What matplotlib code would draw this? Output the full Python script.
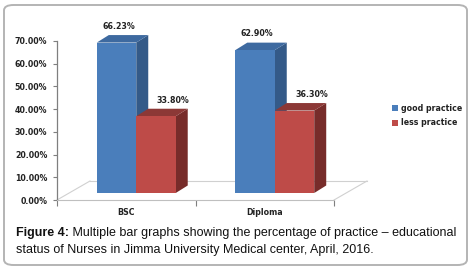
import matplotlib
matplotlib.use('Agg')
import matplotlib.pyplot as plt
from matplotlib.patches import Polygon, Patch, FancyBboxPatch

categories = ['BSC', 'Diploma']
good_practice = [66.23, 62.90]
less_practice = [33.80, 36.30]
yticks = [0, 10, 20, 30, 40, 50, 60, 70]
caption_bold = 'Figure 4:'
caption_1 = ' Multiple bar graphs showing the percentage of practice \u2013 educational'
caption_2 = 'status of Nurses in Jimma University Medical center, April, 2016.'

W, H = 476, 270
fig = plt.figure(figsize=(W / 100, H / 100), dpi=100)

# outer rounded frame
fig.patches.append(FancyBboxPatch((4 / W, 5 / H), 463 / W, 260 / H,
                                  boxstyle='round,pad=0,rounding_size=0.02',
                                  transform=fig.transFigure, fill=False,
                                  edgecolor='#b4b4b4', linewidth=1.4))

# plot frame in pixels: x 57..334, y 41..200
ax = fig.add_axes([57 / W, (H - 200) / H, 277 / W, 159 / H])
ax.set_xlim(-0.5, 1.5)
ax.set_ylim(0, 70)
ux = 2 / 277      # data per pixel, x
uy = 70 / 159     # data per pixel, y

for s in ['top', 'right']:
    ax.spines[s].set_visible(False)
ax.spines['left'].set_color('#7f7f7f')
ax.spines['bottom'].set_color('#bfbfbf')
ax.spines['left'].set_linewidth(0.9)
ax.spines['bottom'].set_linewidth(0.8)

font = dict(family='DejaVu Sans', weight='bold', size=5.7, color='#222222')

ax.set_yticks(yticks)
ax.set_yticklabels([f'{v:.2f}%' for v in yticks], **font)
ax.tick_params(axis='y', length=3, width=0.8, color='#7f7f7f', pad=4)
ax.set_xticks(range(len(categories)))
ax.set_xticklabels(categories, **font)
ax.tick_params(axis='x', length=0, pad=6)
ax.set_xticks([-0.5, 0.5, 1.5], minor=True)
ax.tick_params(axis='x', which='minor', length=4, color='#7f7f7f', width=0.8)

# floor outline (3d depth)
fdx, fdy = 33 * ux, 19 * uy
floor_kw = dict(color='#d0d0d0', lw=0.8, clip_on=False, zorder=1)
ax.plot([-0.5, -0.5 + fdx], [0, fdy], **floor_kw)
ax.plot([-0.5 + fdx, 1.5 + fdx], [fdy, fdy], **floor_kw)
ax.plot([1.5, 1.5 + fdx], [0, fdy], **floor_kw)

# bars sit at mid depth
bx, by = 10 * ux, 7 * uy
ddx, ddy = 12 * ux, 7.5 * uy
bw = 0.285

series = [
    (good_practice, -bw / 2, ('#4a7ebb', '#345a88', '#3e6aa0'), 'good practice', 2),
    (less_practice, bw / 2, ('#be4b48', '#772c2a', '#8c3836'), 'less practice', 17),
]

for vals, off, (cf, cs, ct), label, lab_dx in series:
    for i, v in enumerate(vals):
        x0 = i + off - bw / 2 + bx
        x1 = x0 + bw
        y0 = by
        y1 = by + v
        # side face
        ax.add_patch(Polygon([(x1, y0), (x1 + ddx, y0 + ddy), (x1 + ddx, y1 + ddy), (x1, y1)],
                             closed=True, facecolor=cs, edgecolor='none', clip_on=False, zorder=3))
        # top face
        ax.add_patch(Polygon([(x0, y1), (x1, y1), (x1 + ddx, y1 + ddy), (x0 + ddx, y1 + ddy)],
                             closed=True, facecolor=ct, edgecolor='none', clip_on=False, zorder=3))
        # front face
        ax.bar(x0, v, width=bw, bottom=y0, align='edge', color=cf, edgecolor='none',
               clip_on=False, zorder=4)
        ax.annotate(f'{v:.2f}%', xy=(i + off + bx, y1 + ddy), xytext=(lab_dx * 0.72, 3),
                    textcoords='offset points', ha='center', va='bottom',
                    annotation_clip=False, **font)

handles = [Patch(facecolor='#4a7ebb'), Patch(facecolor='#be4b48')]
ax.legend(handles, ['good practice', 'less practice'], loc='center left',
          bbox_to_anchor=(388 / W, 1 - 115.5 / H), bbox_transform=fig.transFigure,
          frameon=False, borderpad=0, handlelength=0.75, handleheight=0.75,
          handletextpad=0.45, labelspacing=0.75,
          prop=dict(family='DejaVu Sans', weight='bold', size=5.7))
for t in ax.get_legend().get_texts():
    t.set_color('#222222')

cap = dict(family='Liberation Sans', size=9.0, color='#111111')
t1 = fig.text(16 / W, 1 - 233 / H, caption_bold, weight='bold', va='center', **cap)
ax.annotate(caption_1, xy=(1, 0), xycoords=t1, va='bottom', ha='left', **cap)
fig.text(16 / W, 1 - 249.5 / H, caption_2, va='center', **cap)

fig.savefig('out.png', dpi=100)
